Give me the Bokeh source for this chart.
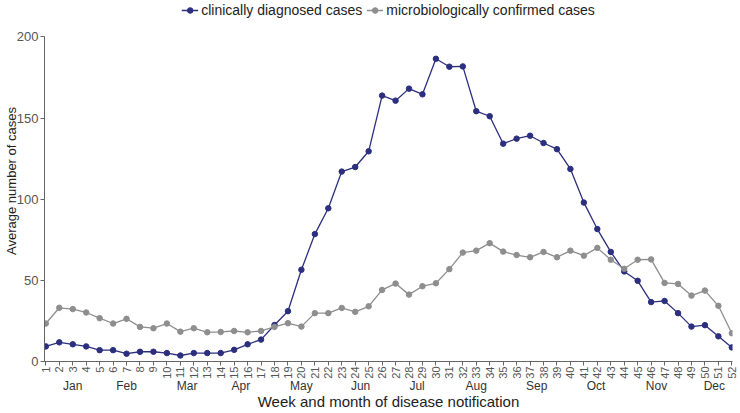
import math
from bokeh.plotting import figure
from bokeh.models import Range1d, LinearAxis, FixedTicker, Legend, LegendItem
from bokeh.embed import file_html
from bokeh.resources import INLINE

weeks = list(range(1, 53))
clinical = [9.3, 11.8, 10.6, 9.3, 7.0, 7.0, 4.8, 6.0, 6.0, 5.2,
            3.7, 5.2, 5.2, 5.2, 7.2, 10.6, 13.5, 22.5, 31, 56.5,
            78.5, 94.4, 117, 119.8, 129.5, 163.8, 160.7, 168.1, 164.6, 186.5,
            181.6, 181.8, 154.2, 151.1, 134.2, 137.3, 139.1, 134.6, 130.8, 118.6,
            97.9, 81.6, 67.5, 55.5, 49.7, 36.6, 37.3, 29.8, 21.5, 22.4,
            15.5, 8.7]
micro = [23.4, 33.1, 32.3, 30.2, 26.7, 23.4, 26.3, 21.3, 20.5, 23.4,
         18.4, 20.5, 18.0, 18.2, 18.8, 18.0, 18.8, 21.3, 23.6, 21.5,
         29.8, 29.8, 33.0, 30.6, 34.0, 44.1, 48.0, 41.2, 46.4, 48.2,
         56.9, 67.1, 68.3, 72.9, 67.7, 65.6, 64.2, 67.5, 64.2, 68.3,
         65.2, 70.0, 62.7, 57.1, 62.7, 62.9, 48.4, 47.8, 40.6, 43.7,
         34.3, 17.4]
month_names = ["Jan", "Feb", "Mar", "Apr", "May", "Jun",
               "Jul", "Aug", "Sep", "Oct", "Nov", "Dec"]
month_pos = [3.0, 7.0, 11.5, 15.5, 20.0, 24.4, 28.6, 33.0, 37.5, 41.9, 46.4, 50.7]
y_ticks = [0, 50, 100, 150, 200]

BLUE = "#2c2f7e"
GRAY = "#8e8e8e"
AXIS = "#666666"
FONT = "Liberation Sans"

p = figure(width=738, height=412, output_backend="svg", toolbar_location=None,
           x_range=Range1d(0.9, 52.05), y_range=Range1d(0, 222.4),
           min_border_top=0, min_border_right=6, min_border_left=0, min_border_bottom=0)
p.outline_line_color = None
p.xgrid.grid_line_color = None
p.ygrid.grid_line_color = None

l1 = p.line(weeks, clinical, line_color=BLUE, line_width=1.3)
s1 = p.scatter(weeks, clinical, size=5.5, fill_color=BLUE, line_color=BLUE)
l2 = p.line(weeks, micro, line_color=GRAY, line_width=1.3)
s2 = p.scatter(weeks, micro, size=5.5, fill_color=GRAY, line_color=GRAY)

# week axis
xa = p.xaxis[0]
xa.ticker = FixedTicker(ticks=weeks)
xa.major_label_orientation = math.pi / 2
xa.major_label_text_font = FONT
xa.major_label_text_font_size = "11px"
xa.major_label_text_color = "#555555"
xa.major_label_standoff = 1
xa.major_tick_out = 4
xa.major_tick_in = 0
xa.minor_tick_line_color = None
xa.axis_line_color = AXIS
xa.major_tick_line_color = AXIS

# month axis
ma = LinearAxis(ticker=FixedTicker(ticks=month_pos),
                major_label_overrides={pos: name for pos, name in zip(month_pos, month_names)})
ma.axis_line_color = None
ma.major_tick_line_color = None
ma.minor_tick_line_color = None
ma.major_tick_out = 0
ma.major_tick_in = 0
ma.major_label_text_font = FONT
ma.major_label_text_font_size = "12px"
ma.major_label_text_color = "#333333"
ma.major_label_standoff = -3
ma.axis_label = "Week and month of disease notification"
ma.axis_label_text_font = FONT
ma.axis_label_text_font_size = "15px"
ma.axis_label_text_font_style = "normal"
ma.axis_label_text_color = "#222222"
ma.axis_label_standoff = -3
p.add_layout(ma, "below")

ya = p.yaxis[0]
ya.ticker = FixedTicker(ticks=y_ticks)
ya.bounds = (0, 200)
ya.major_label_text_font = FONT
ya.major_label_text_font_size = "13px"
ya.major_label_text_color = "#555555"
ya.major_label_standoff = 2
ya.major_tick_out = 4
ya.major_tick_in = 0
ya.minor_tick_line_color = None
ya.axis_line_color = AXIS
ya.major_tick_line_color = AXIS
ya.axis_label = "Average number of cases"
ya.axis_label_text_font = FONT
ya.axis_label_text_font_size = "13px"
ya.axis_label_text_font_style = "normal"
ya.axis_label_text_color = "#222222"
ya.axis_label_standoff = -5

legend = Legend(items=[LegendItem(label="clinically diagnosed cases", renderers=[l1, s1]),
                       LegendItem(label="microbiologically confirmed cases", renderers=[l2, s2])],
                orientation="horizontal", location="top_center")
legend.label_text_font = FONT
legend.label_text_font_size = "14px"
legend.label_text_color = "#222222"
legend.glyph_width = 17
legend.glyph_height = 14
legend.label_standoff = 3
legend.spacing = 4
legend.padding = 0
legend.margin = 2
legend.border_line_color = None
legend.background_fill_alpha = 0
p.add_layout(legend)

open("out.html", "w").write(file_html(p, INLINE))
